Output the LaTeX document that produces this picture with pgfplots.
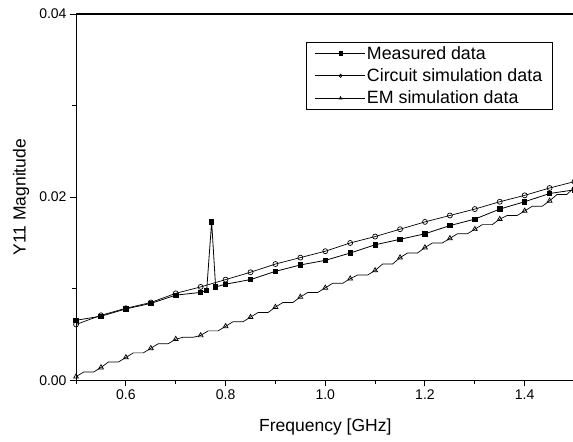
\documentclass[border=0pt]{standalone}
\usepackage{fontspec}
\setmainfont{Liberation Sans}
\usepackage{pgfplots}
\pgfplotsset{compat=1.18}
\begin{document}
\begin{tikzpicture}[x=1pt,y=1pt]
\begin{axis}[
  scale only axis,
  width=498pt, height=366pt,
  xmin=0.5, xmax=1.5, ymin=0, ymax=0.04,
  xtick={0.6,0.8,1.0,1.2,1.4},
  minor xtick={0.5,0.7,0.9,1.1,1.3,1.5},
  ytick={0,0.02,0.04},
  minor ytick={0.01,0.03},
  xtick pos=bottom, ytick pos=left,
  tick align=outside,
  major tick length=6pt, minor tick length=4pt,
  every tick/.style={black, line width=1pt},
  axis line style={line width=1.1pt},
  /pgf/number format/assume math mode=true,
  xticklabel style={/pgf/number format/.cd, fixed, fixed zerofill, precision=1},
  yticklabel style={/pgf/number format/.cd, fixed, fixed zerofill, precision=2},
  scaled y ticks=false,
  tick label style={font=\fontsize{14}{16}\selectfont},
  label style={font=\fontsize{17.5}{20}\selectfont},
  xlabel={Frequency [GHz]},
  ylabel={Y11 Magnitude},
  xlabel style={at={(axis description cs:0.5,0)}, anchor=center, yshift=-47pt},
  ylabel style={at={(axis description cs:0,0.5)}, anchor=center, yshift=55pt},
  legend style={at={(axis description cs:0.956,0.924)}, anchor=north east,
    font=\fontsize{17.8}{20}\selectfont, draw=black, line width=0.7pt,
    inner xsep=8pt, inner ysep=2pt, row sep=4pt},
  legend cell align=left,
  legend image code/.code={
    \path (0pt,0pt) -- (50pt,0pt);
    \draw[#1, mark size=1.6pt, mark repeat=1] (6pt,0pt) -- (46pt,0pt);
    \draw[#1, mark size=1.6pt, mark repeat=1] plot coordinates {(26pt,0pt)};
  },
  clip=false,
]
\addplot[black, line width=0.8pt, mark=square*, mark size=2.2pt, mark options={solid,fill=black}]
coordinates {
(0.50,0.00656) (0.55,0.0070) (0.60,0.0078) (0.65,0.0084) (0.70,0.0093) (0.75,0.0096)
(0.762,0.0098) (0.772,0.0173) (0.780,0.0102)
(0.80,0.0105) (0.85,0.0110) (0.90,0.0119) (0.95,0.0126) (1.00,0.0131) (1.05,0.0139)
(1.10,0.0148) (1.15,0.0154) (1.20,0.0160) (1.25,0.0169) (1.30,0.0176) (1.35,0.0187)
(1.40,0.0195) (1.45,0.0204) (1.50,0.0208)
};
\addlegendentry{Measured data}
\addplot[black, line width=0.7pt, mark=o, mark size=2.5pt, mark options={solid,fill=white}]
coordinates {
(0.50,0.0061) (0.55,0.0071) (0.60,0.00787) (0.65,0.0085) (0.70,0.0095) (0.75,0.0102)
(0.80,0.0110) (0.85,0.0118) (0.90,0.0127) (0.95,0.0134) (1.00,0.0141) (1.05,0.0150)
(1.10,0.0157) (1.15,0.0165) (1.20,0.0173) (1.25,0.0180) (1.30,0.0187) (1.35,0.0195)
(1.40,0.0202) (1.45,0.0210) (1.50,0.0217)
};
\addlegendentry{Circuit simulation data}
\addplot[black, line width=0.7pt, mark=triangle, mark size=2.8pt, mark repeat=3, mark phase=1, mark options={solid,fill=white}]
coordinates {
(0.50,0.0004) (0.515,0.0009) (0.535,0.0009)
(0.55,0.0014) (0.565,0.0020) (0.585,0.0020)
(0.60,0.0025) (0.615,0.0030) (0.635,0.0030)
(0.65,0.0035) (0.665,0.0040) (0.685,0.0040)
(0.70,0.0045) (0.715,0.0047) (0.735,0.0047)
(0.75,0.0049) (0.765,0.0054) (0.785,0.0054)
(0.80,0.0059) (0.815,0.0064) (0.835,0.0064)
(0.85,0.0069) (0.865,0.0074) (0.885,0.0074)
(0.90,0.0080) (0.915,0.0085) (0.935,0.0085)
(0.95,0.0091) (0.965,0.0096) (0.985,0.0096)
(1.00,0.0101) (1.015,0.0106) (1.035,0.0106)
(1.05,0.0111) (1.065,0.0115) (1.085,0.0115)
(1.10,0.0120) (1.115,0.0127) (1.135,0.0127)
(1.15,0.0134) (1.165,0.0139) (1.185,0.0139)
(1.20,0.0145) (1.215,0.0150) (1.235,0.0150)
(1.25,0.0155) (1.265,0.0160) (1.285,0.0160)
(1.30,0.0165) (1.315,0.0170) (1.335,0.0170)
(1.35,0.0176) (1.365,0.0180) (1.385,0.0180)
(1.40,0.0185) (1.415,0.0190) (1.435,0.0190)
(1.45,0.0196) (1.465,0.0203) (1.485,0.0203)
(1.50,0.0211)
};
\addlegendentry{EM simulation data}
\end{axis}
\pgfresetboundingbox
\path ([shift={(-76pt,-61pt)}]current axis.south west) rectangle ([shift={(-1.5pt,14pt)}]current axis.north east);
\end{tikzpicture}
\end{document}
